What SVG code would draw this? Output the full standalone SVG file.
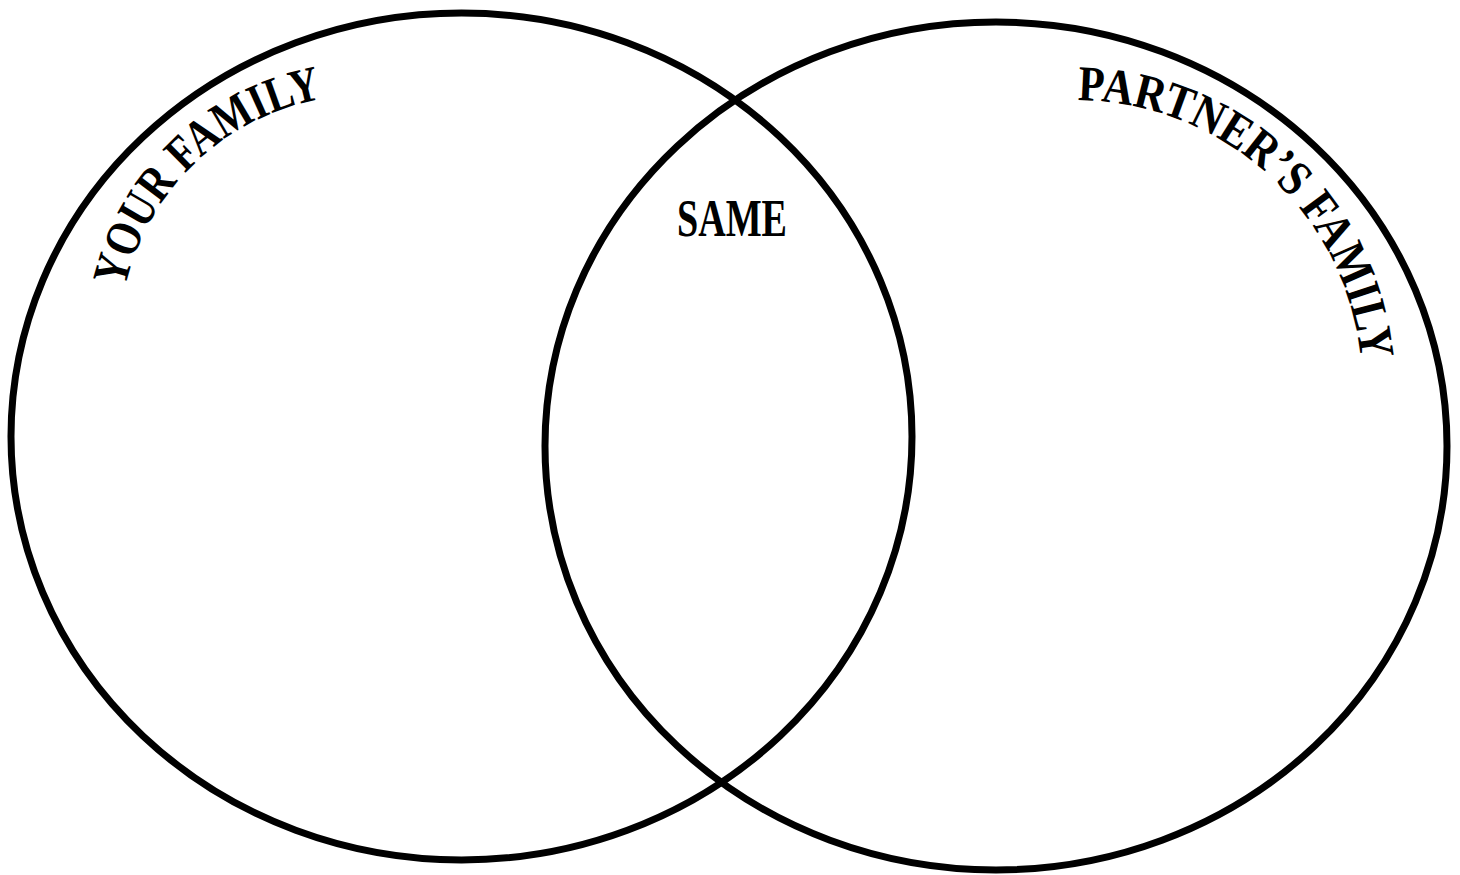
<svg xmlns="http://www.w3.org/2000/svg" width="1460" height="875" viewBox="0 0 1460 875">
  <style>
    .ring { fill: none; stroke: #000; stroke-width: 7; }
    .lbl { font-family: "Liberation Serif", "DejaVu Serif", serif; font-weight: bold; fill: #000; }
  </style>
  <defs>
    <path id="pathLeft" d="M 124.9 288.1 A 246.5 246.5 0 0 1 408.4 98.6"/>
    <path id="pathRight" d="M 1077.7 100.3 A 287 287 0 0 1 1361.1 412.3"/>
  </defs>
  <rect width="1460" height="875" fill="#fff"/>
  <g id="your-family">
    <ellipse class="ring" cx="461.5" cy="436.5" rx="450.5" ry="423.5"/>
    <text class="lbl" font-size="50" textLength="290" lengthAdjust="spacingAndGlyphs"><textPath href="#pathLeft" textLength="290" lengthAdjust="spacingAndGlyphs">YOUR FAMILY</textPath></text>
  </g>
  <g id="partners-family">
    <ellipse class="ring" cx="996" cy="446" rx="451" ry="424"/>
    <text class="lbl" font-size="50" textLength="421" lengthAdjust="spacingAndGlyphs"><textPath href="#pathRight" textLength="421" lengthAdjust="spacingAndGlyphs">PARTNER’S FAMILY</textPath></text>
  </g>
  <g id="same">
    <text class="lbl" x="677" y="236" font-size="52" textLength="110" lengthAdjust="spacingAndGlyphs">SAME</text>
  </g>
</svg>
